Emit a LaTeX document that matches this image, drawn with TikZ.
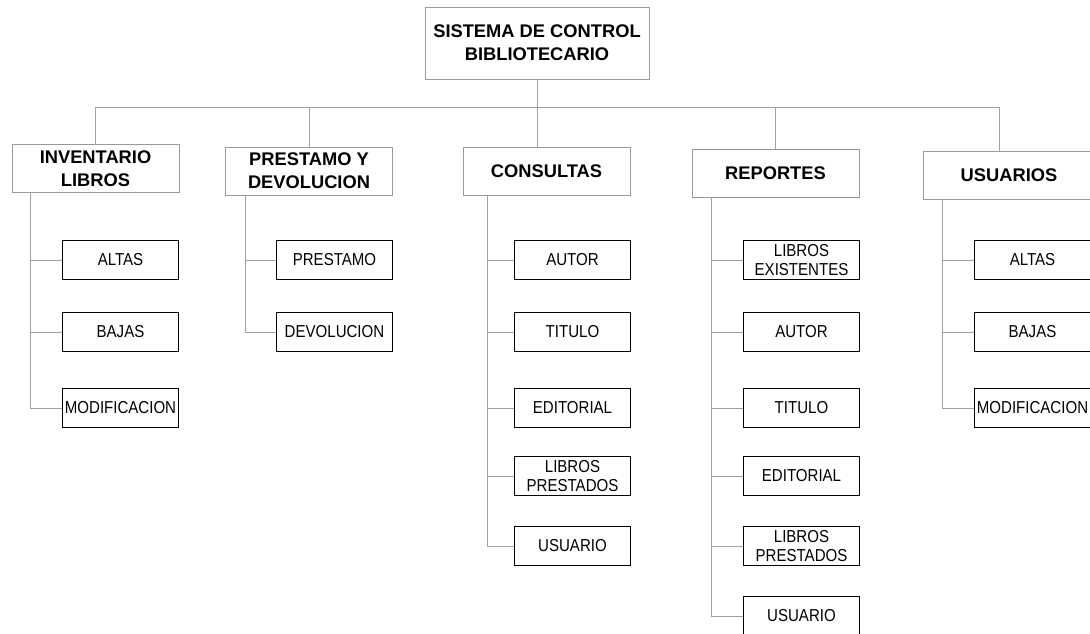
\documentclass[tikz,border=0pt]{standalone}
\usepackage{fontspec}
\setmainfont{Liberation Sans}
\newfontfamily\hojafont{Liberation Sans}[FakeStretch=0.87]
\usetikzlibrary{positioning, calc}
\definecolor{grislinea}{HTML}{A0A0A0}
\definecolor{grisborde}{HTML}{9A9A9A}

\begin{document}
\begin{tikzpicture}[
        x=1pt, y=-1pt,
        caja/.style={draw=grisborde, line width=1pt, align=center, inner sep=0pt, minimum width=#1, minimum height=48pt, font=\fontsize{18.3}{23}\selectfont\bfseries},
        caja/.default=167pt,
        hoja/.style={draw=black, line width=1pt, align=center, inner sep=0pt, minimum width=116pt, minimum height=39pt, font=\hojafont\fontsize{17.3}{19}\selectfont, anchor=east},
        linea/.style={draw=grislinea, line width=1pt}
    ]
        \useasboundingbox (0,0) rectangle (1090,633);
        \clip (0,0) rectangle (1090,633);

        \node[caja=224pt, minimum height=72pt] (sistema) at (537,43) {SISTEMA DE CONTROL\\BIBLIOTECARIO};

        \node[caja] (inventario) at (95.5,168.5) {INVENTARIO\\LIBROS};
        \node[caja] (prestamo) at (309,171) {PRESTAMO Y\\DEVOLUCION};
        \node[caja] (consultas) at (546.5,171) {CONSULTAS};
        \node[caja] (reportes) at (775.5,173) {REPORTES};
        \node[caja=172pt] (usuarios) at (1009,175) {USUARIOS};

        % inventario libros
        \node[hoja] (inv-altas) at (179,260) {ALTAS};
        \node[hoja] (inv-bajas) at (179,332) {BAJAS};
        \node[hoja] (inv-modif) at (179,408) {MODIFICACION};

        % prestamo y devolucion
        \node[hoja] (pre-prestamo) at (393,260) {PRESTAMO};
        \node[hoja] (pre-devolucion) at (393,332) {DEVOLUCION};

        % consultas
        \node[hoja] (con-autor) at (631,260) {AUTOR};
        \node[hoja] (con-titulo) at (631,332) {TITULO};
        \node[hoja] (con-editorial) at (631,408) {EDITORIAL};
        \node[hoja] (con-prestados) at (631,476) {LIBROS\\PRESTADOS};
        \node[hoja] (con-usuario) at (631,546) {USUARIO};

        % reportes
        \node[hoja] (rep-existentes) at (860,260) {LIBROS\\EXISTENTES};
        \node[hoja] (rep-autor) at (860,332) {AUTOR};
        \node[hoja] (rep-titulo) at (860,408) {TITULO};
        \node[hoja] (rep-editorial) at (860,476) {EDITORIAL};
        \node[hoja] (rep-prestados) at (860,546) {LIBROS\\PRESTADOS};
        \node[hoja] (rep-usuario) at (860,616) {USUARIO};

        % usuarios
        \node[hoja] (usu-altas) at (1091,260) {ALTAS};
        \node[hoja] (usu-bajas) at (1091,332) {BAJAS};
        \node[hoja] (usu-modif) at (1091,408) {MODIFICACION};

        \coordinate (barra) at (537,107);
        \coordinate (tinv) at ($(inventario.south west)+(19,0)$);
        \coordinate (tpre) at ($(prestamo.south west)+(20,0)$);
        \coordinate (tcon) at ($(consultas.south west)+(25,0)$);
        \coordinate (trep) at ($(reportes.south west)+(20,0)$);
        \coordinate (tusu) at ($(usuarios.south west)+(20,0)$);

        \draw[linea] (sistema.south) -- (barra);
        \draw[linea] (inventario.north |- barra) -- ([xshift=-10pt]usuarios.north |- barra);
        \draw[linea] (inventario.north |- barra) -- (inventario.north);
        \draw[linea] (prestamo.north |- barra) -- (prestamo.north);
        \draw[linea] (barra) -- (barra |- consultas.north);
        \draw[linea] (reportes.north |- barra) -- (reportes.north);
        \draw[linea] ([xshift=-10pt]usuarios.north |- barra) -- ([xshift=-10pt]usuarios.north);

        \draw[linea] (tinv) |- (inv-modif.west);
        \draw[linea] (tinv |- inv-altas) -- (inv-altas.west);
        \draw[linea] (tinv |- inv-bajas) -- (inv-bajas.west);

        \draw[linea] (tpre) |- (pre-devolucion.west);
        \draw[linea] (tpre |- pre-prestamo) -- (pre-prestamo.west);

        \draw[linea] (tcon) |- (con-usuario.west);
        \draw[linea] (tcon |- con-autor) -- (con-autor.west);
        \draw[linea] (tcon |- con-titulo) -- (con-titulo.west);
        \draw[linea] (tcon |- con-editorial) -- (con-editorial.west);
        \draw[linea] (tcon |- con-prestados) -- (con-prestados.west);

        \draw[linea] (trep) |- (rep-usuario.west);
        \draw[linea] (trep |- rep-existentes) -- (rep-existentes.west);
        \draw[linea] (trep |- rep-autor) -- (rep-autor.west);
        \draw[linea] (trep |- rep-titulo) -- (rep-titulo.west);
        \draw[linea] (trep |- rep-editorial) -- (rep-editorial.west);
        \draw[linea] (trep |- rep-prestados) -- (rep-prestados.west);

        \draw[linea] (tusu) |- (usu-modif.west);
        \draw[linea] (tusu |- usu-altas) -- (usu-altas.west);
        \draw[linea] (tusu |- usu-bajas) -- (usu-bajas.west);
    \end{tikzpicture}
\end{document}
